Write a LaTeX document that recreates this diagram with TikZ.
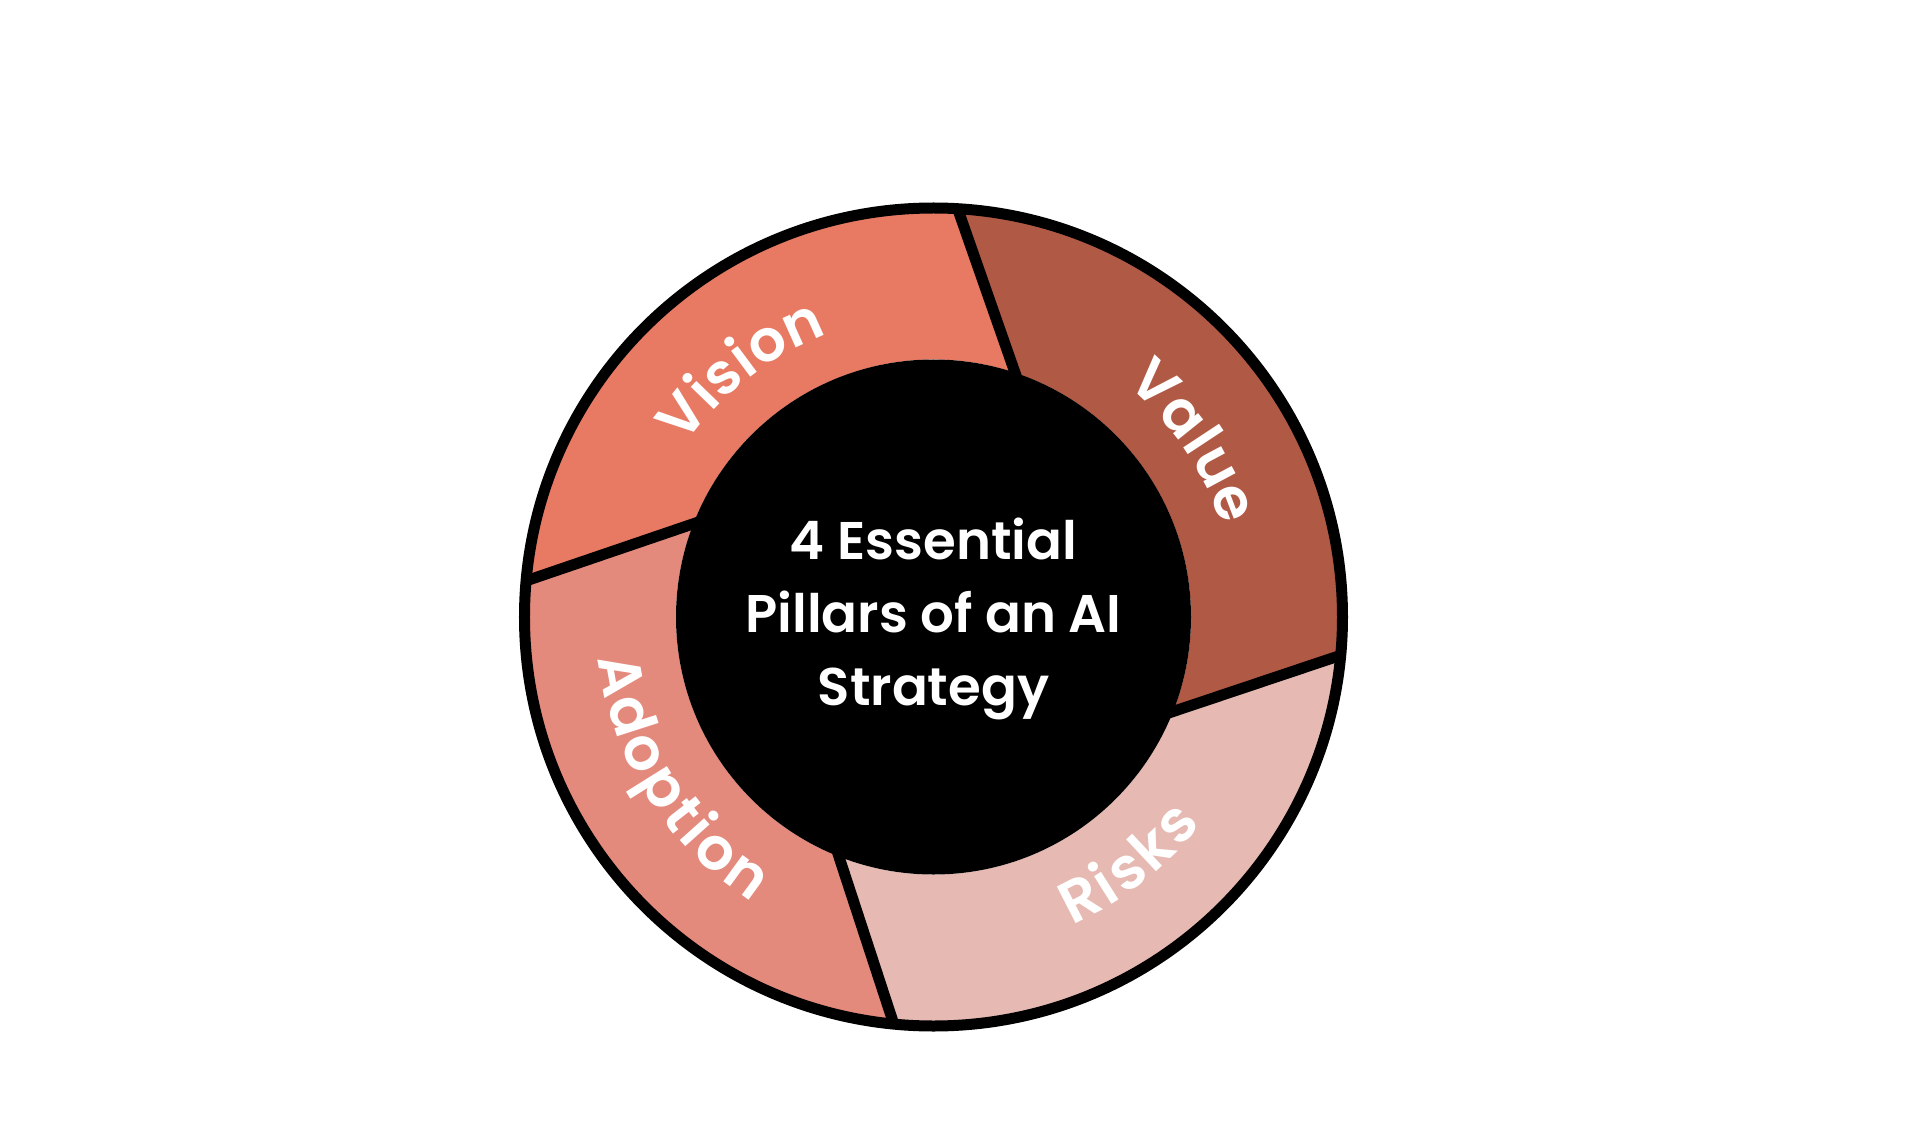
\documentclass[tikz,border=0pt]{standalone}
\usepackage{fontspec}
\setmainfont{Poppins}
\newfontfamily\popsb{Poppins SemiBold}
\usetikzlibrary{decorations.text}
\definecolor{cvision}{HTML}{E87A64}
\definecolor{cvalue}{HTML}{B05A46}
\definecolor{crisks}{HTML}{E6BAB3}
\definecolor{cadopt}{HTML}{E48A7D}
\tikzset{
  divider/.style={draw=black,line width=5.5pt,line cap=round},
  ringlabel/.style={decorate,decoration={text along path,text align=center,text color=white,
     text={|\popsb\fontsize{29}{29}\selectfont\kern0.3pt|#1}}},
  ringlabelb/.style={decorate,decoration={text along path,text align=center,text color=white,
     text={|\popsb\fontsize{29.5}{29.5}\selectfont\kern1.6pt|#1}}}
}
\begin{document}
\begin{tikzpicture}[x=0.5pt,y=0.5pt]
\useasboundingbox (-933.5,-508) rectangle (986.5,617);
\fill[white] (-933.5,-508) rectangle (986.5,617);
% sectors
\fill[cvision] (86.5:409) arc[start angle=86.5,end angle=174.8,radius=409] -- (157.3:257.5) arc[start angle=157.3,end angle=70.2,radius=257.5] -- cycle;
\fill[cvalue] (-5.5:409) arc[start angle=-5.5,end angle=86.5,radius=409] -- (70.2:257.5) arc[start angle=70.2,end angle=-23,radius=257.5] -- cycle;
\fill[crisks] (-95.7:409) arc[start angle=-95.7,end angle=-5.5,radius=409] -- (-23:257.5) arc[start angle=-23,end angle=-113,radius=257.5] -- cycle;
\fill[cadopt] (174.8:409) arc[start angle=174.8,end angle=264.3,radius=409] -- (247:257.5) arc[start angle=247,end angle=157.3,radius=257.5] -- cycle;
% dividers
\coordinate (o1) at (86.5:407);  \coordinate (i1) at (70.2:250);
\coordinate (o2) at (174.8:407); \coordinate (i2) at (157.3:250);
\coordinate (o3) at (264.3:407); \coordinate (i3) at (247:250);
\coordinate (o4) at (-5.5:407);  \coordinate (i4) at (-23:250);
\draw[divider] (o1) -- (i1);
\draw[divider] (o2) -- (i2);
\draw[divider] (o3) -- (i3);
\draw[divider] (o4) -- (i4);
% outer ring
\draw[line width=5.5pt] (0,0) circle[radius=409];
% inner disc
\fill[black] (0,0) circle[radius=257.5];
\node[align=center,text=white,font=\popsb\fontsize{26.5}{36.7}\selectfont] (title) at (0,-2) {4 Essential\\Pillars of an AI\\Strategy};
% ring labels
\path[ringlabel=Vision] (178:302) arc[start angle=178,end angle=78,radius=302];
\path[ringlabel=Value] (84:302) arc[start angle=84,end angle=-16,radius=302];
\path[ringlabelb=Risks] (-102:338) arc[start angle=-102,end angle=-2,radius=338];
\path[ringlabelb=Adoption] (162:338) arc[start angle=162,end angle=262,radius=338];
\end{tikzpicture}
\end{document}
